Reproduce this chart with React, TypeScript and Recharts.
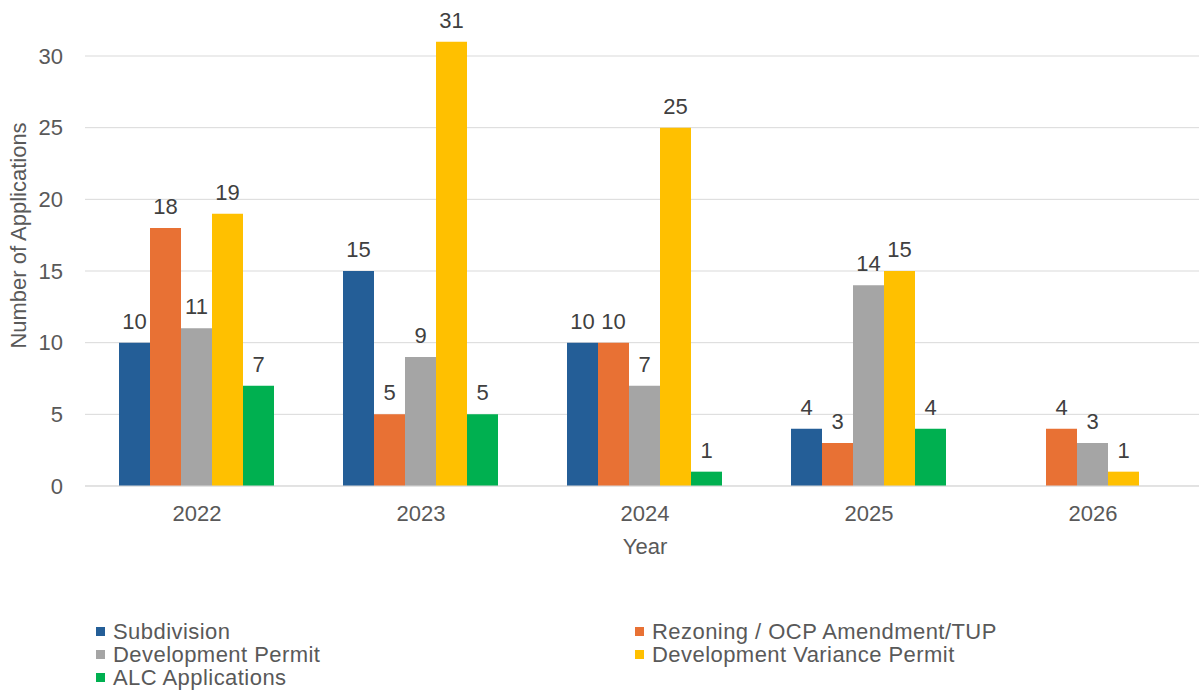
import React from 'react';
import { Bar, BarChart, CartesianGrid, LabelList, Legend, XAxis, YAxis } from 'recharts';

const years = ['2022', '2023', '2024', '2025', '2026'];
const subdivision = [10, 15, 10, 4, null];
const rezoning = [18, 5, 10, 3, 4];
const developmentPermit = [11, 9, 7, 14, 3];
const variancePermit = [19, 31, 25, 15, 1];
const alcApplications = [7, 5, 1, 4, null];
const yTicks = [0, 5, 10, 15, 20, 25, 30];
const Y_MAX = 33;

const series = [
  { key: 'subdivision', name: 'Subdivision', color: '#245E97', values: subdivision },
  { key: 'rezoning', name: 'Rezoning / OCP Amendment/TUP', color: '#E87134', values: rezoning },
  { key: 'developmentPermit', name: 'Development Permit', color: '#A5A5A5', values: developmentPermit },
  { key: 'variancePermit', name: 'Development Variance Permit', color: '#FFC000', values: variancePermit },
  { key: 'alcApplications', name: 'ALC Applications', color: '#00B050', values: alcApplications },
];

const data = years.map((year, i) => {
  const row: Record<string, any> = { year };
  series.forEach((s) => {
    row[s.key] = s.values[i];
  });
  return row;
});

const FONT = '"Liberation Sans", Arial, sans-serif';
const TEXT = '#595959';

const seriesOrder = (name: string) => series.findIndex((s) => s.name === name);

const LegendGrid = ({ payload }: any) => {
  // keep the legend in series order, not alphabetical
  const items = [...(payload || [])].sort((a: any, b: any) => seriesOrder(a.value) - seriesOrder(b.value));
  return (
    <div
      style={{
        display: 'grid',
        gridTemplateColumns: '539px auto',
        fontFamily: FONT,
        fontSize: 22,
        lineHeight: '23px',
        letterSpacing: '0.45px',
        color: TEXT,
      }}
    >
      {items.map((item: any) => (
        <div key={item.value} style={{ display: 'flex', alignItems: 'center', whiteSpace: 'nowrap', height: 23 }}>
          <span style={{ width: 9, height: 9, background: item.color, marginRight: 8, display: 'inline-block' }} />
          <span>{item.value}</span>
        </div>
      ))}
    </div>
  );
};

const YTitle = ({ viewBox }: any) => {
  const cx = 18;
  const cy = viewBox.y + viewBox.height / 2 - 14;
  return (
    <text
      x={cx}
      y={cy}
      transform={`rotate(-90, ${cx}, ${cy})`}
      textAnchor="middle"
      dominantBaseline="central"
      fill={TEXT}
      fontSize={22}
      fontFamily={FONT}
    >
      Number of Applications
    </text>
  );
};

const XTitle = ({ viewBox }: any) => (
  <text
    x={viewBox.x + viewBox.width / 2}
    y={viewBox.y + 68}
    textAnchor="middle"
    fill={TEXT}
    fontSize={22}
    fontFamily={FONT}
  >
    Year
  </text>
);

// gridlines only at the labelled ticks (no line at the top of the domain)
const gridRows = ({ offset }: any) => yTicks.map((t) => offset.top + offset.height * (1 - t / Y_MAX));

const App = () => {
  return (
    <div style={{ position: 'absolute', left: 0, top: 0, width: 1199, height: 691, overflow: 'hidden', background: '#fff' }}>
      <BarChart
        width={1205}
        height={691}
        data={data}
        margin={{ top: 13, right: 0, left: 0, bottom: 130 }}
        barCategoryGap={34}
        barGap={0}
        style={{ fontFamily: FONT }}
      >
        <CartesianGrid vertical={false} stroke="#D9D9D9" horizontalCoordinatesGenerator={gridRows} />
        <XAxis
          dataKey="year"
          height={75}
          tickLine={false}
          tickSize={0}
          tickMargin={19}
          axisLine={{ stroke: '#D9D9D9' }}
          tick={{ fill: TEXT, fontSize: 22, fontFamily: FONT }}
          label={<XTitle />}
        />
        <YAxis
          width={85}
          domain={[0, Y_MAX]}
          ticks={yTicks}
          allowDataOverflow
          axisLine={false}
          tickLine={false}
          tickSize={0}
          tickMargin={22}
          tick={{ fill: TEXT, fontSize: 22, fontFamily: FONT }}
          label={<YTitle />}
        />
        <Legend
          layout="vertical"
          align="center"
          verticalAlign="middle"
          wrapperStyle={{ left: 96, top: 620, width: 1000 }}
          content={<LegendGrid />}
        />
        {series.map((s) => (
          <Bar key={s.key} dataKey={s.key} name={s.name} fill={s.color} isAnimationActive={false}>
            <LabelList
              dataKey={s.key}
              position="top"
              offset={14}
              fill="#404040"
              fontSize={22}
              fontFamily={FONT}
              formatter={(v: any) => (v ? v : '')}
            />
          </Bar>
        ))}
      </BarChart>
    </div>
  );
};

export default App;
